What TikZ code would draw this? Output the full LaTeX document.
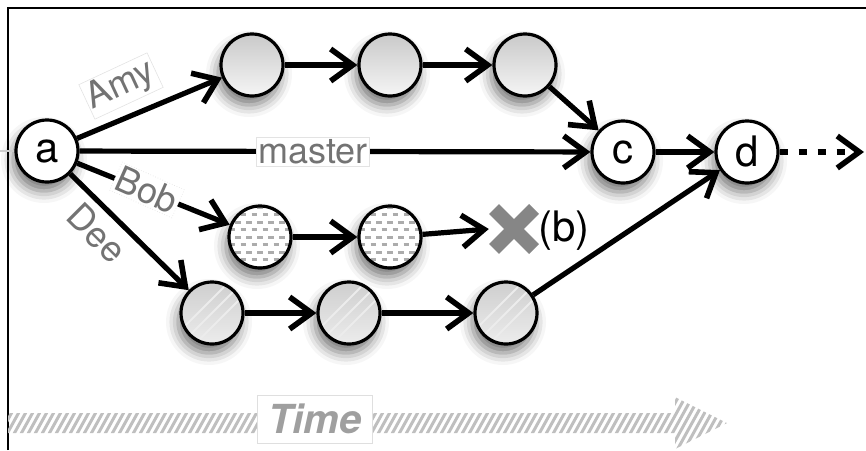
\documentclass[tikz,border=0pt]{standalone}
\usepackage{fontspec}
\setmainfont{TeX Gyre Heros}
\usetikzlibrary{arrows.meta,shadows.blur}
\definecolor{lblgray}{gray}{0.45}
\begin{document}
\begin{tikzpicture}[x=1pt,y=-1pt,
  commit/.style={circle,draw=black,line width=3.2pt,minimum size=62pt,inner sep=0pt,
    blur shadow={shadow xshift=-3pt,shadow yshift=-9pt,shadow blur radius=12pt,shadow opacity=55}},
  plain/.style={commit,fill=white,font=\fontsize{42}{42}\selectfont},
  amyc/.style={commit,top color=gray!42,bottom color=gray!8},
  bobc/.style={commit,fill=white,path picture={
      \foreach \r in {-4,...,4}{
        \foreach \c in {-4,...,4}{
          \pgfmathsetmacro{\xo}{\c*11+mod(abs(\r),2)*5.5}
          \draw[gray!65,line width=3pt,shift={(path picture bounding box.center)}]
            (\xo-2.8,\r*7.5) -- (\xo+2.8,\r*7.5);
        }}}},
  deec/.style={commit,top color=gray!38,bottom color=gray!15,path picture={
      \foreach \k in {-14,0,14}{
        \draw[white!85!gray,line width=1.8pt,shift={(path picture bounding box.center)}]
          (\k-26,26) -- (\k+26,-26);
      }}},
  arr/.style={line width=5.2pt,-{Straight Barb[length=22pt,width=32pt,line width=5.6pt]}},
  lbl/.style={text=lblgray,font=\fontsize{36}{36}\selectfont,inner sep=2pt},
  boxlbl/.style={lbl,fill=white,draw=gray!22,line width=0.6pt}
]
\useasboundingbox (0,0) rectangle (866,450);
% frame
\draw[line width=2pt] (8,450) -- (8,8) -- (866,8);

% time arrow
\begin{scope}
  \clip (8,413) -- (675,413) -- (675,397) -- (727,423) -- (675,449) -- (675,433) -- (8,433) -- cycle;
  \foreach \s in {0,7,...,760}{
    \draw[gray!50,line width=3pt] (\s-10,452) -- (\s+22,394);
  }
\end{scope}
\node[draw=gray!25,fill=white,line width=0.8pt,minimum width=115pt,minimum height=48pt,
  text=gray!75,font=\fontsize{40}{40}\selectfont\bfseries\itshape] (time) at (315,419) {Time};

% commits
\node[plain] (a) at (47,151) {a};
\node[plain] (c) at (623,152) {c};
\node[plain] (d) at (747,152) {d};
\node[amyc] (amy1) at (252,65) {};
\node[amyc] (amy2) at (390,65) {};
\node[amyc] (amy3) at (525,65) {};
\node[bobc] (bob1) at (260,237) {};
\node[bobc] (bob2) at (390,237) {};
\node[deec] (dee1) at (212,313) {};
\node[deec] (dee2) at (349,313) {};
\node[deec] (dee3) at (506,313) {};

% discarded commit
\coordinate (x1) at (494,209);
\coordinate (x2) at (534,249);
\coordinate (x3) at (534,209);
\coordinate (x4) at (494,249);
\draw[line width=14pt,draw=gray!95] (x1) -- (x2) (x3) -- (x4);
\node[inner sep=0pt,minimum size=50pt] (x) at (514,229) {};
\node[font=\fontsize{42}{42}\selectfont,anchor=west,inner sep=0pt] (b) at (538,231) {(b)};
\coordinate (stub) at (0,151);
\coordinate (dend) at (864,152);

% connectors
\draw[gray!40,line width=2pt] (stub) -- (a);
\draw[arr] (a) -- (amy1);
\draw[arr] (amy1) -- (amy2);
\draw[arr] (amy2) -- (amy3);
\draw[arr] (amy3) -- (c);
\draw[arr] (a) -- (c);
\draw[arr] (c) -- (d);
\draw[arr,dash pattern=on 8pt off 11pt] (d) -- (dend);
\draw[arr] (a) -- (bob1);
\draw[arr] (bob1) -- (bob2);
\draw[arr] (bob2) -- (x.west);
\draw[arr] (a) -- (dee1);
\draw[arr] (dee1) -- (dee2);
\draw[arr] (dee2) -- (dee3);
\draw[arr] (dee3) -- (d);

% branch labels
\node[boxlbl,rotate=25] (lamy) at (121,86) {Amy};
\node[boxlbl] (lmaster) at (313,152) {master};
\node[lbl,fill=white,draw=gray!25,dotted,line width=0.6pt,rotate=-24] (lbob) at (147,190) {Bob};
\node[lbl,rotate=-45] (ldee) at (97,233) {Dee};
\end{tikzpicture}
\end{document}
